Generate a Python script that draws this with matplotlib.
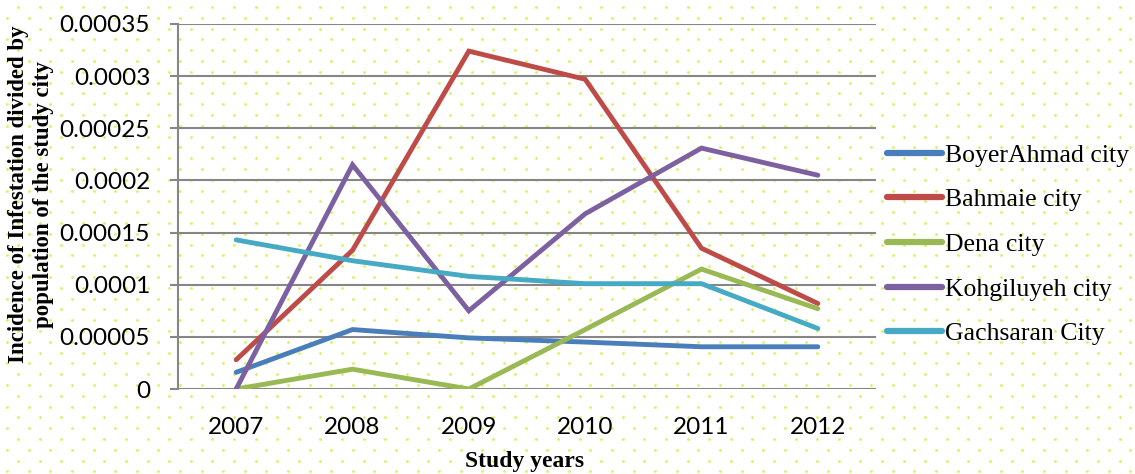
import numpy as np
import matplotlib
matplotlib.use("Agg")
import matplotlib.pyplot as plt

# data
years = ["2007", "2008", "2009", "2010", "2011", "2012"]
boyer_ahmad = [1.6e-5, 5.7e-5, 4.9e-5, 4.5e-5, 4.05e-5, 4.05e-5]
bahmaie = [2.8e-5, 1.33e-4, 3.24e-4, 2.97e-4, 1.35e-4, 8.2e-5]
dena = [0.0, 1.9e-5, 0.0, 5.7e-5, 1.15e-4, 7.7e-5]
kohgiluyeh = [0.0, 2.15e-4, 7.5e-5, 1.68e-4, 2.31e-4, 2.05e-4]
gachsaran = [1.43e-4, 1.23e-4, 1.08e-4, 1.01e-4, 1.01e-4, 5.8e-5]
series_names = ["BoyerAhmad city", "Bahmaie city", "Dena city",
                "Kohgiluyeh city", "Gachsaran City"]
y_ticks = [0, 0.00005, 0.0001, 0.00015, 0.0002, 0.00025, 0.0003, 0.00035]
y_tick_labels = ["0", "0.00005", "0.0001", "0.00015", "0.0002",
                 "0.00025", "0.0003", "0.00035"]

colors = ["#4A7EBB", "#BE4B48", "#98B954", "#7D60A0", "#46AAC5"]

W, H = 1135, 474
fig = plt.figure(figsize=(W / 100, H / 100), dpi=100)

# dotted background pattern over the whole figure
bg = fig.add_axes([0, 0, 1, 1], zorder=-1)
bg.set_xlim(0, W)
bg.set_ylim(H, 0)
bg.axis("off")
dx, dy = 21.6, 10.8
px, py = [], []
row = 0
yy = 7.0
while yy < H:
    x0 = 18.0 if row % 2 == 0 else 7.2
    xx = x0
    while xx < W:
        px.append(xx)
        py.append(yy)
        xx += dx
    yy += dy
    row += 1
bg.scatter(px, py, s=4, color="#d2f55a", linewidths=0)

ax = fig.add_axes([178 / W, 1 - 389 / H, (876 - 178) / W, (389 - 24) / H])
ax.patch.set_alpha(0)

x = np.arange(len(years))
for vals, name, c in zip([boyer_ahmad, bahmaie, dena, kohgiluyeh, gachsaran],
                         series_names, colors):
    ax.plot(x, vals, color=c, lw=3.5, label=name, solid_capstyle="round",
            solid_joinstyle="miter", zorder=3)

ax.set_xlim(-0.5, 5.5)
ax.set_ylim(0, 0.00035)
ax.set_yticks(y_ticks)
ax.set_yticklabels(y_tick_labels)
ax.set_xticks(x)
ax.set_xticklabels(years)
ax.grid(axis="y", color="#868686", lw=1.5, zorder=1)
for s in ["top", "right", "bottom"]:
    ax.spines[s].set_visible(False)
ax.spines["left"].set_color("#868686")
ax.spines["left"].set_linewidth(1.5)
ax.tick_params(axis="y", length=6, width=1.5, color="#868686", pad=14,
               labelsize=17.5)
ax.tick_params(axis="x", length=0, pad=20, labelsize=17.5)
for lab in ax.get_xticklabels() + ax.get_yticklabels():
    lab.set_fontfamily("Lato")

fig.text(465 / W + (585 - 465) / 2 / W, 1 - 462 / H, "Study years",
         ha="center", va="center", fontsize=17, fontweight="bold",
         family="Liberation Serif")
fig.text(31 / W, 1 - 194 / H,
         "Incidence of Infestation divided by\npopulation of the study city",
         rotation=90, ha="center", va="center", multialignment="center",
         fontsize=16.5, fontweight="bold", family="Liberation Serif",
         linespacing=1.2)

leg = fig.legend(loc="center left", bbox_to_anchor=(874 / W, 1 - 244.5 / H),
                 frameon=False, handlelength=2.15, handletextpad=0.12,
                 labelspacing=0.84, borderpad=0,
                 prop={"family": "Liberation Serif", "size": 18.5})
for h in leg.get_lines():
    h.set_linewidth(4.5)

fig.savefig("out.png", dpi=100)
